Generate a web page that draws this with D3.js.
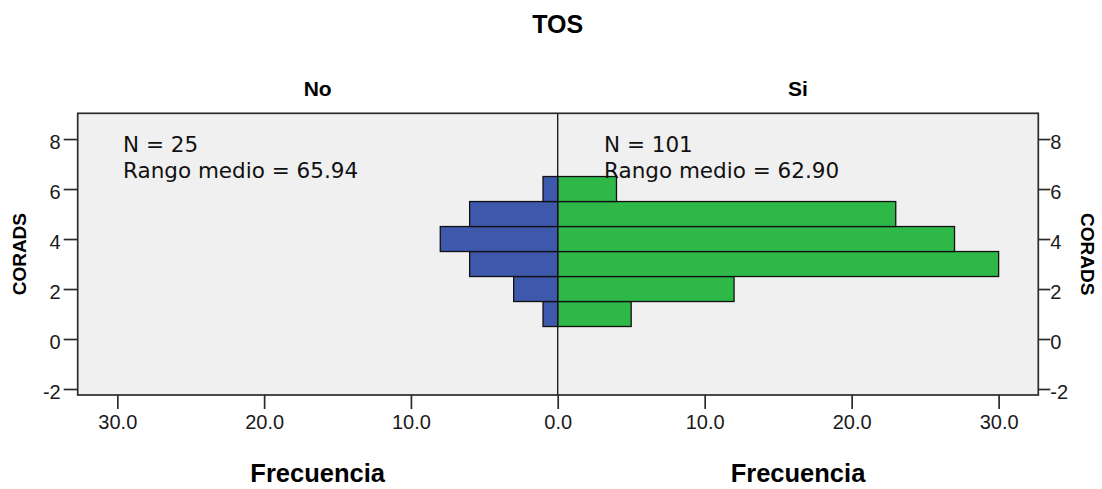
<!DOCTYPE html>
<html>
<head>
<meta charset="utf-8">
<script src="https://cdn.jsdelivr.net/npm/d3@7/dist/d3.min.js"></script>
<style>
  html, body { margin: 0; padding: 0; background: #ffffff; }
  svg { display: block; }
</style>
</head>
<body>
<svg id="chart" width="1102" height="489"></svg>
<script>
// CORADS score distribution split by cough (TOS): back-to-back histogram
const coradsLevels = [1, 2, 3, 4, 5, 6];
const freqNo = [1, 3, 6, 8, 6, 1];
const freqSi = [5, 12, 30, 27, 23, 4];
const groupNames = ["No", "Si"];
const groupN = [25, 101];
const groupMeanRank = ["65.94", "62.90"];
const freqTicks = [0, 10, 20, 30];
const coradsTicks = [-2, 0, 2, 4, 6, 8];

const W = 1102, H = 489;
const frame = { left: 77.7, right: 1038.3, top: 113.3, bottom: 395, mid: 557.7 };
const maxFreq = 32.7;

const svg = d3.select("#chart");

const y = d3.scaleLinear().domain([-2.24, 9.03]).range([frame.bottom, frame.top]);
const xLeft = d3.scaleLinear().domain([0, maxFreq]).range([frame.mid, frame.left]);
const xRight = d3.scaleLinear().domain([0, maxFreq]).range([frame.mid, frame.right]);

const sans = "'Liberation Sans', Arial, sans-serif";
const dejavu = "'DejaVu Sans', Verdana, sans-serif";
const axisColor = "#2b2b2b";

// plot background
svg.append("rect")
  .attr("x", frame.left).attr("y", frame.top)
  .attr("width", frame.right - frame.left).attr("height", frame.bottom - frame.top)
  .attr("fill", "#f0f0f0");

// bars
const rows = coradsLevels.map((lvl, i) => ({ lvl, no: freqNo[i], si: freqSi[i] }));
const barG = svg.append("g");
barG.selectAll("rect.no").data(rows).join("rect")
  .attr("class", "no")
  .attr("x", d => xLeft(d.no))
  .attr("y", d => y(d.lvl + 0.5))
  .attr("width", d => xLeft(0) - xLeft(d.no))
  .attr("height", d => y(d.lvl - 0.5) - y(d.lvl + 0.5))
  .attr("fill", "#3e58ac")
  .attr("stroke", "#111")
  .attr("stroke-width", 1.3);
barG.selectAll("rect.si").data(rows).join("rect")
  .attr("class", "si")
  .attr("x", xRight(0))
  .attr("y", d => y(d.lvl + 0.5))
  .attr("width", d => xRight(d.si) - xRight(0))
  .attr("height", d => y(d.lvl - 0.5) - y(d.lvl + 0.5))
  .attr("fill", "#2eb848")
  .attr("stroke", "#111")
  .attr("stroke-width", 1.3);

// divider between the two panels
svg.append("line")
  .attr("x1", frame.mid).attr("x2", frame.mid)
  .attr("y1", frame.top).attr("y2", frame.bottom)
  .attr("stroke", "#111").attr("stroke-width", 1.3);

// frame border
svg.append("rect")
  .attr("x", frame.left).attr("y", frame.top)
  .attr("width", frame.right - frame.left).attr("height", frame.bottom - frame.top)
  .attr("fill", "none")
  .attr("stroke", axisColor).attr("stroke-width", 1.7);

function styleAxis(g) {
  g.select(".domain").remove();
  g.selectAll(".tick line").attr("stroke", axisColor).attr("stroke-width", 1.7);
  g.selectAll(".tick text")
    .attr("fill", "#1a1a1a")
    .style("font-family", sans)
    .style("font-size", "20px");
}

const fmt = d3.format(".1f");
const intLabel = d => String(d);

// frequency axes
svg.append("g")
  .attr("transform", `translate(0,${frame.bottom})`)
  .call(d3.axisBottom(xLeft).tickValues(freqTicks.filter(t => t > 0)).tickFormat(fmt).tickSize(14).tickPadding(6))
  .call(styleAxis);
svg.append("g")
  .attr("transform", `translate(0,${frame.bottom})`)
  .call(d3.axisBottom(xRight).tickValues(freqTicks).tickFormat(fmt).tickSize(14).tickPadding(6))
  .call(styleAxis);

// CORADS axes on both sides
svg.append("g")
  .attr("transform", `translate(${frame.left},0)`)
  .call(d3.axisLeft(y).tickValues(coradsTicks).tickFormat(intLabel).tickSize(14).tickPadding(3))
  .call(styleAxis)
  .selectAll(".tick text").attr("dy", "0.48em");
svg.append("g")
  .attr("transform", `translate(${frame.right},0)`)
  .call(d3.axisRight(y).tickValues(coradsTicks).tickFormat(intLabel).tickSize(12).tickPadding(0))
  .call(styleAxis)
  .selectAll(".tick text").attr("dy", "0.48em");

// panel statistics
const statX = [123, 604];
groupNames.forEach((g, i) => {
  const t = svg.append("text")
    .attr("x", statX[i]).attr("y", 151.7)
    .attr("fill", "#111")
    .style("font-family", dejavu).style("font-size", "21.5px");
  t.append("tspan").attr("x", statX[i]).text(`N = ${groupN[i]}`);
  t.append("tspan").attr("x", statX[i]).attr("dy", 26).text(`Rango medio = ${groupMeanRank[i]}`);
});

// titles
svg.append("text")
  .attr("x", frame.mid).attr("y", 33.3)
  .attr("text-anchor", "middle")
  .style("font-family", sans).style("font-weight", "bold").style("font-size", "25px")
  .text("TOS");

const panelCenters = [(frame.left + frame.mid) / 2, (frame.mid + frame.right) / 2];
groupNames.forEach((g, i) => {
  svg.append("text")
    .attr("x", panelCenters[i]).attr("y", 95.7)
    .attr("text-anchor", "middle")
    .style("font-family", sans).style("font-weight", "bold").style("font-size", "21px")
    .text(g);
  svg.append("text")
    .attr("x", panelCenters[i]).attr("y", 481.7)
    .attr("text-anchor", "middle")
    .style("font-family", sans).style("font-weight", "bold").style("font-size", "25.5px")
    .text("Frecuencia");
});

const yMid = (frame.top + frame.bottom) / 2;
svg.append("text")
  .attr("transform", `translate(25.5,${yMid}) rotate(-90)`)
  .attr("text-anchor", "middle")
  .style("font-family", sans).style("font-weight", "bold").style("font-size", "19px")
  .text("CORADS");
svg.append("text")
  .attr("transform", `translate(1080.5,${yMid}) rotate(90)`)
  .attr("text-anchor", "middle")
  .style("font-family", sans).style("font-weight", "bold").style("font-size", "19px")
  .text("CORADS");
</script>
</body>
</html>
